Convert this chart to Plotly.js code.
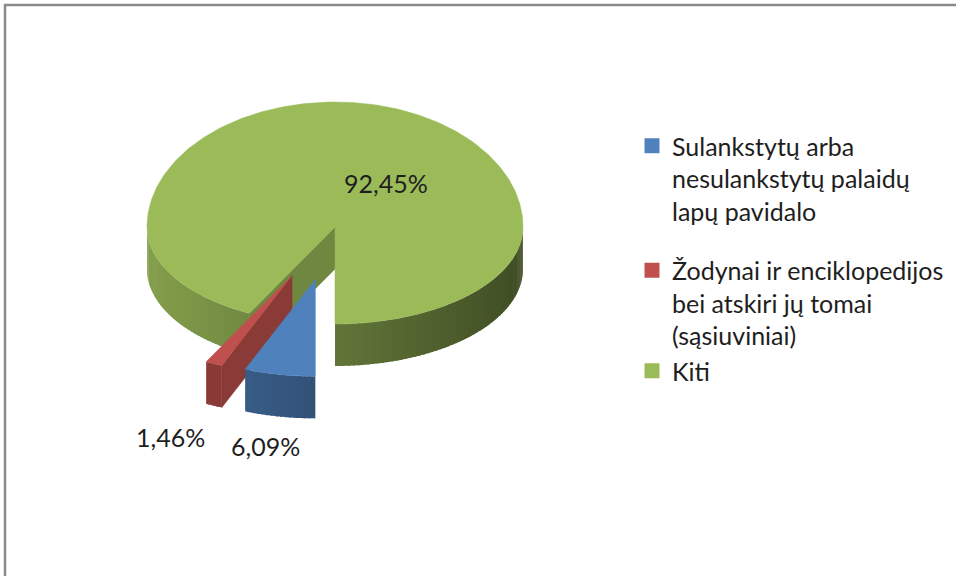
<!DOCTYPE html>
<html>
<head>
<meta charset="utf-8">
<script src="https://cdn.plot.ly/plotly-3.0.1.min.js"></script>
<style>
  html, body { margin: 0; padding: 0; background: #ffffff; }
  #chart { width: 956px; height: 576px; }
</style>
</head>
<body>
<div id="chart"></div>
<script>
// ---- data ----
const categories = [
  'Sulankstytų arba<br>nesulankstytų palaidų<br>lapų pavidalo',
  'Žodynai ir enciklopedijos<br>bei atskiri jų tomai<br>(sąsiuviniai)',
  'Kiti'
];
const shares = [6.09, 1.46, 92.45];

// ---- styles ----
const colors = ['#4F81BD', '#C0504D', '#9BBB59'];
const pulls = [0.55, 0.55, 0];
const legendGroups = ['g0', 'g1', 'g1'];

// ---- 3D pie geometry (pixel space, y down) ----
const CX = 335, CY = 227, RX = 188, RYB = 125, RYF = 97, H = 42, START = 180;
const D = Math.PI / 180;

function hexToRgb(h) {
  return [parseInt(h.slice(1, 3), 16), parseInt(h.slice(3, 5), 16), parseInt(h.slice(5, 7), 16)];
}
function shadeColor(h, f) {
  const c = hexToRgb(h).map(v => Math.max(0, Math.min(255, Math.round(v * f))));
  return 'rgb(' + c.join(',') + ')';
}
function pt(theta, r, off, dz) {
  const c = Math.cos(theta * D), s = Math.sin(theta * D);
  const ry = c >= 0 ? RYB : RYF;
  return [CX + off[0] + RX * r * s, CY + off[1] - ry * r * c + (dz || 0)];
}

const total = shares.reduce((a, b) => a + b, 0);
let acc = START;
const slices = shares.map((v, i) => {
  const a0 = acc, a1 = acc + v / total * 360;
  acc = a1;
  const mid = (a0 + a1) / 2;
  const ms = Math.sin(mid * D), mc = Math.cos(mid * D);
  const off = [pulls[i] * RX * ms, -pulls[i] * (mc >= 0 ? RYB : RYF) * mc];
  return { i, a0, a1, off };
});

const traces = [];
function poly(pts, color, lw) {
  const xs = pts.map(p => p[0]), ys = pts.map(p => p[1]);
  xs.push(xs[0]); ys.push(ys[0]);
  traces.push({
    type: 'scatter', mode: lw ? 'lines' : 'none', x: xs, y: ys, fill: 'toself',
    fillcolor: color, line: { color: color, width: lw || 0 },
    hoverinfo: 'skip', showlegend: false
  });
}

function drawSlice(s) {
  const base = colors[s.i];
  const ranges = [];
  for (let k = -1; k <= 2; k++) {
    const lo = 90 + 360 * k, hi = 270 + 360 * k;
    const a = Math.max(s.a0, lo), b = Math.min(s.a1, hi);
    if (b > a) ranges.push([a, b]);
  }
  if (Math.sin(s.a0 * D) < -1e-6) {
    poly([pt(s.a0, 0, s.off), pt(s.a0, 1, s.off), pt(s.a0, 1, s.off, H), pt(s.a0, 0, s.off, H)], shadeColor(base, 0.72), 0.5);
  }
  if (Math.sin(s.a1 * D) > 1e-6) {
    poly([pt(s.a1, 0, s.off), pt(s.a1, 1, s.off), pt(s.a1, 1, s.off, H), pt(s.a1, 0, s.off, H)], shadeColor(base, 0.6), 0.5);
  }
  ranges.forEach(([a, b]) => {
    const n = Math.max(1, Math.ceil((b - a) / 1.5));
    for (let j = 0; j < n; j++) {
      const b0 = a + (b - a) * j / n;
      const b1 = Math.min(b, a + (b - a) * (j + 1) / n + 0.6);
      const top = [], bot = [];
      for (let t = 0; t <= 3; t++) {
        const th = b0 + (b1 - b0) * t / 3;
        top.push(pt(th, 1, s.off));
        bot.push(pt(th, 1, s.off, H));
      }
      const m = Math.sin((b0 + b1) / 2 * D);
      const f = 0.63 - 0.22 * m;
      poly(top.concat(bot.reverse()), shadeColor(base, f), 0);
    }
  });
  const pts = [pt(s.a0, 0, s.off)];
  const n = Math.max(2, Math.ceil(s.a1 - s.a0));
  for (let j = 0; j <= n; j++) pts.push(pt(s.a0 + (s.a1 - s.a0) * j / n, 1, s.off));
  poly(pts, base, 0.5);
}

[2, 1, 0].forEach(k => drawSlice(slices[k]));

shares.forEach((v, i) => {
  traces.push({
    type: 'scatter', mode: 'markers', x: [null], y: [null],
    name: categories[i], legendgroup: legendGroups[i],
    marker: { symbol: 'square', size: 15, color: colors[i] },
    hoverinfo: 'skip', showlegend: true
  });
});

function fmt(v) { return v.toFixed(2).replace('.', ',') + '%'; }
const textFont = { family: 'Lato, "Open Sans", sans-serif', size: 25, color: '#1e1e1e' };
const labelPos = [[265, 446], [170, 437], [386, 183]];
const annotations = shares.map((v, i) => ({
  x: labelPos[i][0], y: labelPos[i][1], xref: 'x', yref: 'y',
  text: fmt(v), showarrow: false, font: textFont, xanchor: 'center', yanchor: 'middle'
}));

const layout = {
  width: 956, height: 576,
  margin: { l: 0, r: 0, t: 0, b: 0 },
  paper_bgcolor: '#ffffff', plot_bgcolor: '#ffffff',
  xaxis: { range: [0, 956], visible: false, fixedrange: true },
  yaxis: { range: [576, 0], visible: false, fixedrange: true },
  showlegend: true,
  legend: {
    x: 632 / 956, y: 1 - 123 / 576, xanchor: 'left', yanchor: 'top',
    font: textFont,
    valign: 'top', tracegroupgap: 24, itemwidth: 30, traceorder: 'grouped',
    bgcolor: 'rgba(0,0,0,0)'
  },
  annotations: annotations,
  shapes: [
    { type: 'line', xref: 'x', yref: 'y', x0: 4, y0: 5, x1: 956, y1: 5, line: { color: '#8a8a8a', width: 2.5 } },
    { type: 'line', xref: 'x', yref: 'y', x0: 5, y0: 4, x1: 5, y1: 576, line: { color: '#8a8a8a', width: 2.5 } }
  ]
};

Plotly.newPlot('chart', traces, layout, { staticPlot: true, displayModeBar: false });
</script>
</body>
</html>
